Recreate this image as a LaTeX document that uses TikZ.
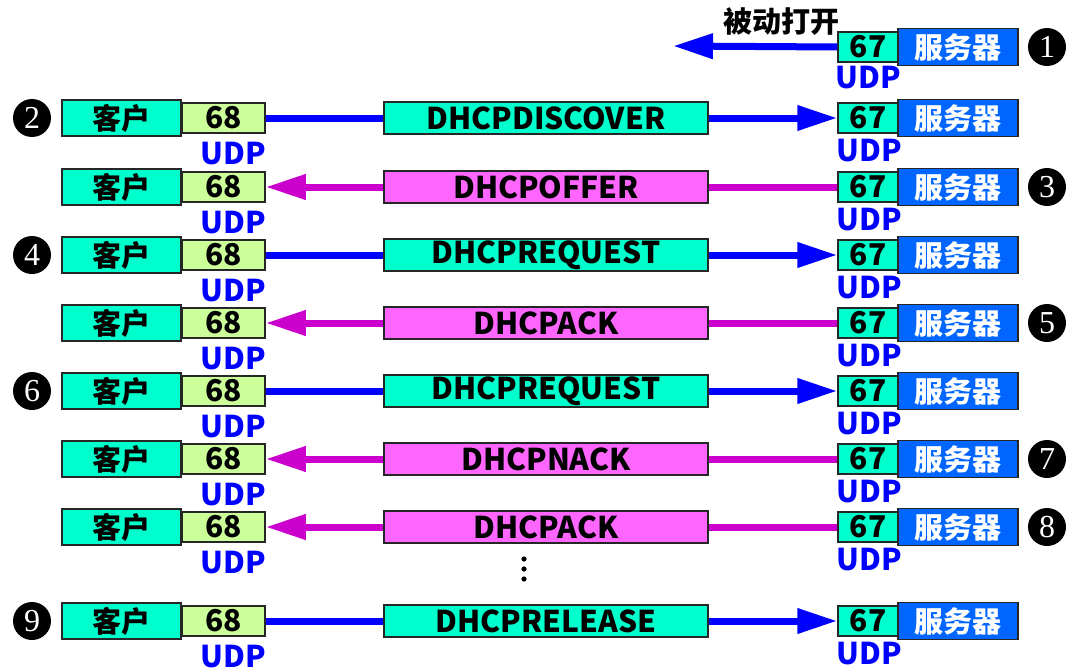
\documentclass[tikz,border=0pt]{standalone}
\usepackage{fontspec}
\setmainfont{Noto Sans CJK SC}
\newfontfamily\numfont{Liberation Serif}
\usetikzlibrary{arrows.meta,positioning}
\definecolor{boxcyan}{RGB}{0,255,204}
\definecolor{portgreen}{RGB}{204,255,153}
\definecolor{servblue}{RGB}{0,102,255}
\definecolor{msgpink}{RGB}{255,102,255}
\definecolor{linemag}{RGB}{204,0,204}
\definecolor{lineblue}{RGB}{0,0,255}
\tikzset{>={Triangle[length=40pt,width=24pt]}}
\tikzset{
  box/.style={draw=black!85, line width=1.5pt, inner sep=0pt,
    font=\fontsize{30}{30}\selectfont\bfseries},
  cjkbox/.style={box, font=\fontsize{29}{30}\selectfont\bfseries},
  client/.style={cjkbox, fill=boxcyan, minimum width=119pt, minimum height=36pt},
  port68/.style={box, fill=portgreen, minimum width=83pt, minimum height=30pt},
  port67/.style={box, fill=boxcyan, minimum width=60pt, minimum height=30pt},
  server/.style={cjkbox, fill=servblue, text=white, minimum width=120pt, minimum height=37pt},
  msgblue/.style={box, fill=boxcyan, minimum width=324pt, minimum height=32pt},
  msgmag/.style={box, fill=msgpink, minimum width=324pt, minimum height=32pt},
  udp/.style={text=lineblue, inner sep=0pt, font=\fontsize{30}{30}\selectfont\bfseries},
  note/.style={inner sep=0pt, font=\fontsize{29}{30}\selectfont\bfseries},
  num/.style={circle, fill=black, text=white, minimum size=38pt, inner sep=0pt,
    font=\numfont\fontsize{32}{32}\selectfont},
  % message lines, head on the side the message goes to
  leftblue/.style={lineblue, line width=7pt},
  leftmag/.style={linemag, line width=7pt, <-},
  rightblue/.style={lineblue, line width=7pt, ->},
  rightmag/.style={linemag, line width=7pt}
}
\begin{document}
\begin{tikzpicture}[x=1pt, y=-1pt]
  \useasboundingbox (0,0) rectangle (1068,669);
  % server waits
  \node[port67] (q1) at (868,47) {67};
  \node[server] (s1) at (958,47) {服务器};
  \node[udp] (v1) at (868,78) {UDP};
  \node[num] (n1) at (1047,47) {1};
  \coordinate (open) at (673,46);
  \draw[rightblue] (q1.west) -- (open);
  \node[note] (passive) at (781,22) {被动打开};
  % exchanges
  \foreach \n/\y/\msg/\kind/\side in {2/118/DHCPDISCOVER/blue/32,
      3/187/DHCPOFFER/mag/1047, 4/255/DHCPREQUEST/blue/32,
      5/323/DHCPACK/mag/1047, 6/391/DHCPREQUEST/blue/32,
      7/459/DHCPNACK/mag/1047, 8/527/DHCPACK/mag/1047,
      9/621/DHCPRELEASE/blue/32}{
    \node[client] (c\n) at (121.5,\y) {客户};
    \node[port68] (p\n) at (223.5,\y) {68};
    \node[msg\kind] (m\n) at (546,\y) {\msg};
    \node[port67] (q\n) at (868,\y) {67};
    \node[server] (s\n) at (958,\y) {服务器};
    \node[udp] (u\n) at (233,\y+36) {UDP};
    \node[udp] (v\n) at (869,\y+33) {UDP};
    \node[num] (n\n) at (\side,\y) {\n};
    \draw[left\kind] (p\n) -- (m\n);
    \draw[right\kind] (m\n) -- (q\n);
  }
  \foreach \d in {559,569,579}
    \fill (524,\d) circle (2.6);
\end{tikzpicture}
\end{document}
